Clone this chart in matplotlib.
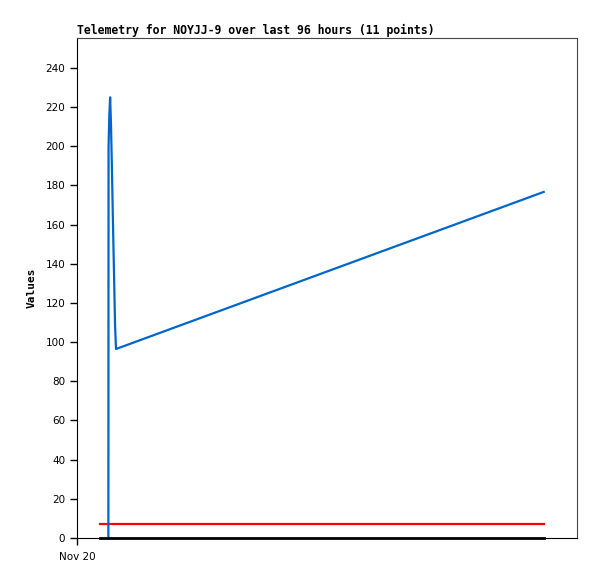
import matplotlib
matplotlib.use("Agg")
import matplotlib.pyplot as plt

# hours since Nov 20 00:00
hours = [6.78, 6.82, 6.99, 7.16, 7.35, 7.57, 7.78, 8.0, 8.22, 8.43, 100.9]
values = [0, 200, 216, 225, 211, 186, 160, 135, 109, 96.5, 176.7]
limit_hours = [5.0, 101.0]
limit_value = 7
zero_value = 0
xticks = [0]
xtick_labels = ["Nov 20"]
yticks = list(range(0, 241, 20))

fig = plt.figure(figsize=(5.97, 5.79), dpi=100)
ax = fig.add_axes([0.129, 0.0708, 0.8375, 0.8636])

ax.plot(limit_hours, [zero_value, zero_value], color="black", linewidth=2.0,
        clip_on=False, zorder=4)
ax.plot(limit_hours, [limit_value, limit_value], color="#ff0000", linewidth=1.6)
ax.plot(hours, values, color="#0066cc", linewidth=1.6, zorder=3)

ax.set_xlim(0, 108.1)
ax.set_ylim(0, 255.3)
ax.set_xticks(xticks)
ax.set_xticklabels(xtick_labels)
ax.set_yticks(yticks)
ax.tick_params(labelsize=7.5, length=5, width=1, direction="out")
ax.tick_params(axis="x", pad=5)

for side in ["top", "right"]:
    ax.spines[side].set_color("#444444")
for side in ["left", "bottom"]:
    ax.spines[side].set_color("black")

ax.set_ylabel("Values", fontfamily="DejaVu Sans Mono", fontweight="bold", fontsize=8, labelpad=6)
ax.set_title("Telemetry for NOYJJ-9 over last 96 hours (11 points)", loc="left",
             fontfamily="DejaVu Sans Mono", fontweight="bold", fontsize=8.3, pad=3)

fig.savefig("out.png", dpi=100)
